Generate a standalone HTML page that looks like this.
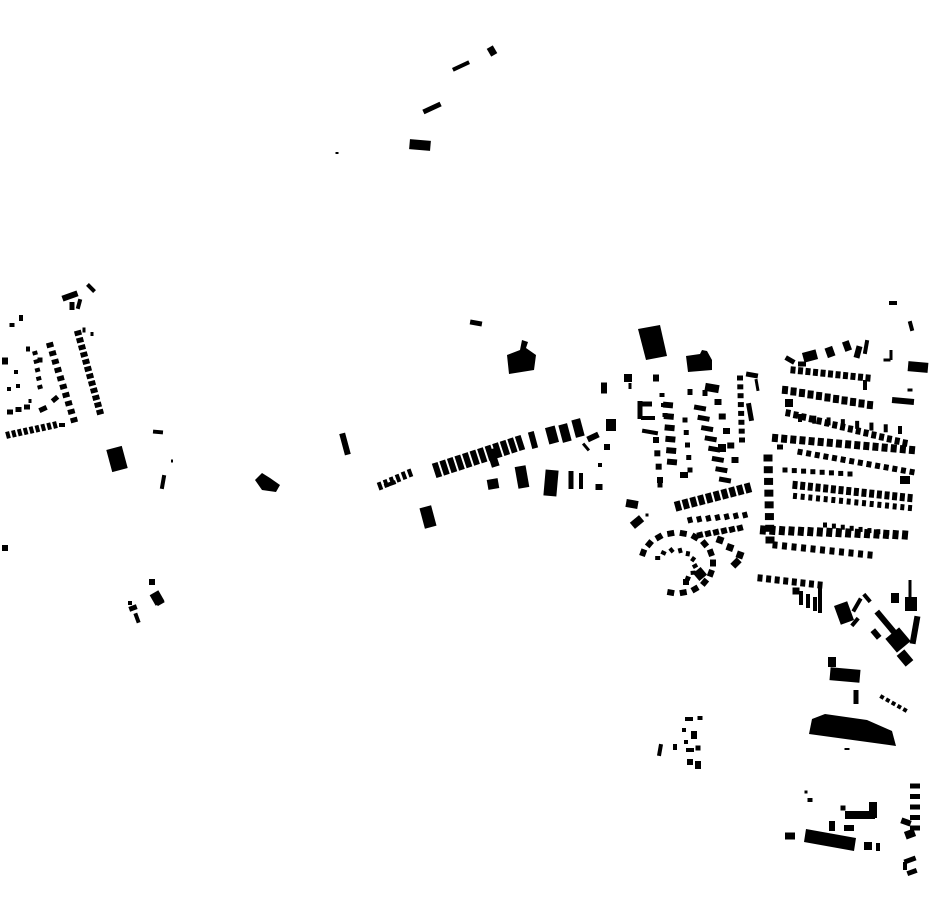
<!DOCTYPE html>
<html><head><meta charset="utf-8"><style>html,body{margin:0;padding:0;background:#fff}svg{display:block}</style></head>
<body>
<svg id="s" width="930" height="924" viewBox="0 0 930 924" xmlns="http://www.w3.org/2000/svg">
<g fill="#000" id="g">
<polygon points="812,719 825,714 867,720 892,731 896,746 809,734"/>
<polygon points="806,829 856,838 854,851 804,842"/>
<polygon points="507,355 520,350 522,340 528,342 526,348 536,355 534,370 509,374"/>
<polygon points="638,329 660,325 667,356 646,360"/>
<polygon points="686,356 700,354 702,350 707,351 712,360 712,370 688,372"/>
<polygon points="255,480 262,473 270,478 280,485 276,492 262,490"/>
</g>
</svg>
<script>
var g=document.getElementById('g'),NS='http://www.w3.org/2000/svg';
function R(cx,cy,w,h,a){var r=document.createElementNS(NS,'rect');r.setAttribute('x',cx-w/2);r.setAttribute('y',cy-h/2);r.setAttribute('width',w);r.setAttribute('height',h);if(a)r.setAttribute('transform','rotate('+a+' '+cx+' '+cy+')');g.appendChild(r);}
function Row(x0,y0,x1,y1,n,w,h,a){for(var i=0;i<n;i++){var t=n>1?i/(n-1):0;R(x0+(x1-x0)*t,y0+(y1-y0)*t,w,h,a);}}
R(492,51,7,9,-30);R(461,66,18,4,-25);R(432,108,19,5,-25);R(420,145,21,10,5);R(337,153,3,2,0);
R(70,296,16,6,-20);R(91,288,4,10,-45);R(72,306,5,8,0);R(79,304,4,10,15);
R(12,325,5,4,0);R(21,318,4,6,0);
Row(78,333,100,412,12,7,5,-15);Row(50,345,74,420,10,7,5,-15);R(84,330,3,5,0);R(92,334,3,4,0);
Row(35,353,40,387,5,5,4,-15);R(40,360,5,5,0);R(28,349,4,5,0);
R(5,361,6,7,0);R(16,372,4,4,0);R(9,389,4,4,0);R(18,386,4,4,0);
Row(10,412,27,407,3,6,5,0);R(43,409,8,5,-25);R(55,399,5,7,50);R(30,401,3,4,0);
Row(8,435,55,425,9,4,7,-15);R(62,425,6,4,0);
R(117,459,16,23,-15);R(158,432,10,4,5);R(172,461,2,3,0);R(163,482,4,14,10);
R(345,444,6,22,-15);R(476,323,12,5,10);R(5,548,6,6,0);
R(152,582,6,6,0);R(157,598,10,12,-30);R(160,602,8,5,-30);R(133,608,8,5,-20);R(137,618,4,10,-20);R(130,603,4,4,0);
Row(380,486,410,473,6,4,8,-20);R(390,484,12,4,-20);
Row(437,470,520,443,12,6,15,-18);R(493,458,8,18,-18);
R(533,440,6,17,-15);R(552,435,10,17,-15);R(565,433,9,18,-15);R(578,428,9,18,-15);R(611,425,10,12,0);
R(493,484,11,10,-10);R(522,477,11,22,-10);R(551,483,13,26,5);R(571,480,5,18,0);R(581,481,4,16,0);R(599,487,7,6,0);
R(428,517,12,21,-15);
R(604,388,6,11,0);R(628,378,8,8,0);R(630,386,3,6,0);R(656,378,6,7,0);
R(593,437,12,6,-25);R(607,447,6,6,0);R(600,465,4,4,0);R(586,447,3,9,-40);
R(640,410,5,18,0);R(646,404,12,5,0);R(648,418,14,4,0);R(650,432,16,4,10);
Row(662,395,665,415,3,5,4,0);Row(668,405,672,462,6,10,6,5);Row(656,440,660,480,4,6,6,0);R(660,485,5,5,0);
Row(690,392,705,393,2,5,6,0);R(712,388,14,8,10);Row(700,408,725,480,8,12,5,10);Row(685,420,690,470,5,5,5,0);
R(684,475,8,6,0);Row(718,402,735,460,5,7,6,0);R(722,448,8,8,0);
Row(740,378,742,440,8,6,5,0);R(752,375,12,5,10);R(757,385,3,12,-10);R(750,412,5,18,-10);
R(810,356,14,10,-15);R(830,352,8,10,-20);R(847,346,7,10,-20);R(858,352,6,12,15);R(866,347,4,14,10);
R(790,360,10,5,30);R(802,364,8,5,0);
Row(793,370,868,378,11,5,7,5);R(865,385,4,10,0);
R(893,303,8,4,0);R(911,326,4,10,-15);R(887,360,7,3,0);R(891,355,3,10,0);R(918,367,20,10,5);R(903,401,22,6,5);R(910,390,5,3,0);
Row(785,390,870,405,11,6,8,5);R(789,403,8,8,0);
Row(788,413,905,443,16,5,7,10);Row(800,418,900,430,8,4,8,0);
Row(775,438,912,450,16,6,8,5);Row(800,452,912,472,14,5,6,10);R(780,447,6,5,0);
Row(768,458,770,540,8,9,7,0);
Row(785,470,850,474,8,5,5,0);Row(795,485,910,498,16,5,8,5);Row(795,496,910,508,16,4,6,5);R(905,480,10,8,0);
Row(763,530,905,535,16,6,9,5);Row(775,545,870,555,11,5,7,5);Row(825,525,905,535,10,4,5,0);
Row(760,578,820,585,8,5,7,5);R(796,591,7,7,0);Row(801,598,815,604,3,4,14,0);R(820,598,4,30,0);
R(844,613,14,20,-20);R(857,605,4,15,30);R(867,598,4,10,-40);R(855,622,4,10,40);
R(910,590,3,20,0);R(895,598,8,10,0);R(911,604,12,14,0);R(915,630,6,28,10);R(888,625,6,35,-40);R(898,640,18,18,-40);R(905,658,10,14,-40);R(876,634,6,10,-40);
Row(678,506,748,488,10,6,10,-15);Row(690,520,745,515,7,5,6,-15);Row(700,535,740,528,6,6,6,-15);
Row(720,540,740,555,3,7,7,20);R(736,563,7,9,45);R(632,504,12,8,10);R(637,522,12,8,-40);R(647,515,3,3,0);
for(var k=0;k<14;k++){var an=(200+k*20)*Math.PI/180;R(677+36*Math.cos(an),563+30*Math.sin(an),7,6,(k*20+110));}
for(var k=0;k<9;k++){var an=(210+k*25)*Math.PI/180;R(675+20*Math.cos(an),566+16*Math.sin(an),5,4,k*25);}
R(700,574,10,10,-40);R(686,582,6,6,0);
R(832,662,8,10,0);R(845,675,30,13,5);R(856,697,5,14,0);
Row(882,697,905,710,5,4,4,30);R(847,749,5,2,0);
R(806,792,3,3,0);R(810,800,5,4,0);R(843,808,5,5,0);R(873,810,8,16,0);R(860,815,30,8,0);R(849,828,10,6,0);R(832,826,6,10,0);
R(790,836,10,7,0);R(868,846,8,8,0);R(878,847,4,8,0);
Row(915,786,915,828,5,10,5,0);R(910,834,10,8,-20);R(906,822,10,6,20);R(910,860,12,5,-20);R(912,872,10,5,-20);R(905,866,4,8,0);
R(689,719,8,4,0);R(700,718,5,4,0);R(684,730,4,4,0);R(694,735,6,8,0);R(660,750,4,12,10);R(675,747,4,6,0);R(690,750,8,4,0);R(698,748,5,5,0);R(690,762,6,6,0);R(698,765,6,8,0);R(686,742,4,4,0);
</script>
</body></html>
